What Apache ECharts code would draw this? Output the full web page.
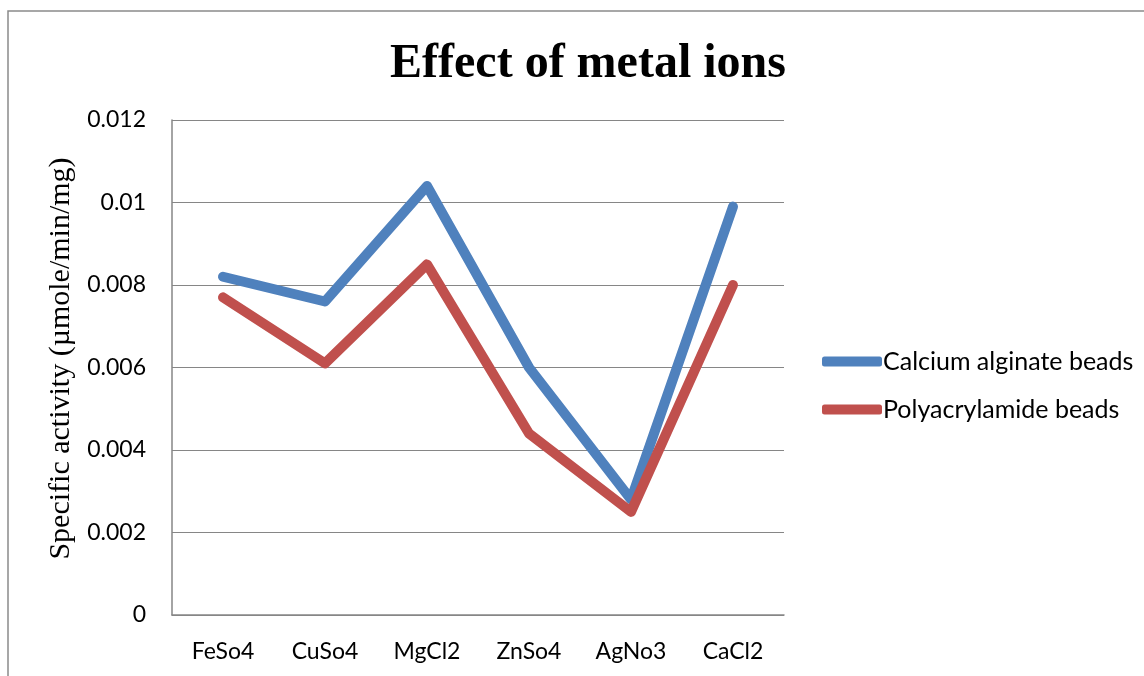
<!DOCTYPE html>
<html><head><meta charset="utf-8">
<script src="https://cdn.jsdelivr.net/npm/echarts@6/dist/echarts.min.js"></script>
<style>html,body{margin:0;padding:0;background:#fff}#c{width:1144px;height:676px}</style>
</head><body><div id="c"></div>
<script>
const categories = ['FeSo4','CuSo4','MgCl2','ZnSo4','AgNo3','CaCl2'];
const calciumAlginate = [0.0082,0.0076,0.0104,0.0060,0.0028,0.0099];
const polyacrylamide = [0.0077,0.0061,0.0085,0.0044,0.0025,0.0080];
const seriesNames = ['Calcium alginate beads','Polyacrylamide beads'];
const chart = echarts.init(document.getElementById('c'));
const lab = {fontFamily:'Lato, "Open Sans", sans-serif', fontSize:23, color:'#000'};
chart.setOption({
  animation:false,
  graphic:[{type:'rect',shape:{x:8,y:11,width:1300,height:900},style:{fill:'none',stroke:'#8a8a8a',lineWidth:1.5},silent:true}],
  title:{text:'Effect of metal ions',left:583,textAlign:'center',top:36,
    textStyle:{fontFamily:'"Liberation Serif","Times New Roman",serif',fontWeight:'bold',fontSize:48,color:'#000'}},
  grid:{left:172,right:360,top:120,bottom:61},
  legend:{left:817,top:344,orient:'vertical',itemWidth:60,itemHeight:10,itemGap:23,icon:'roundRect',
    textStyle:Object.assign({},lab,{fontSize:25,padding:[0,0,0,-4]}),data:seriesNames},
  xAxis:{type:'category',data:categories,boundaryGap:true,
    axisLine:{lineStyle:{color:'#868686',width:1.5}},axisTick:{show:false},
    axisLabel:Object.assign({},lab,{margin:25})},
  yAxis:{type:'value',min:0,max:0.012,interval:0.002,
    name:'Specific activity (µmole/min/mg)',nameLocation:'middle',nameGap:95,
    nameTextStyle:{fontFamily:'"Liberation Serif","Times New Roman",serif',fontSize:30,color:'#000',padding:[0,0,0,18]},
    axisLine:{show:true,lineStyle:{color:'#868686',width:1.5}},axisTick:{show:false},
    splitLine:{lineStyle:{color:'#868686',width:1.2}},
    axisLabel:Object.assign({},lab,{margin:26,formatter:v=>String(+v.toFixed(3))})},
  series:[
    {name:seriesNames[0],type:'line',data:calciumAlginate,symbol:'none',color:'#4F81BD',
      lineStyle:{width:10,color:'#4F81BD',cap:'round',join:'round'}},
    {name:seriesNames[1],type:'line',data:polyacrylamide,symbol:'none',color:'#C0504D',
      lineStyle:{width:10,color:'#C0504D',cap:'round',join:'round'}}
  ]
});
</script></body></html>
